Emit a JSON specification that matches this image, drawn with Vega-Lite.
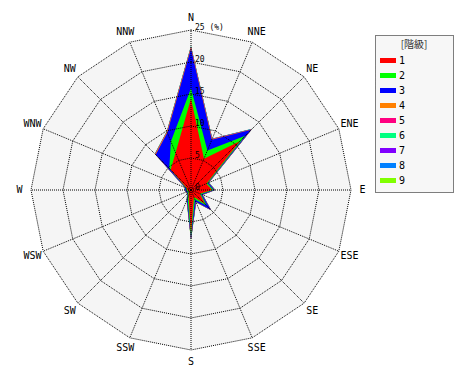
{
  "$schema": "https://vega.github.io/schema/vega-lite/v6.json",
  "width": 340,
  "height": 340,
  "autosize": {"type": "none"},
  "padding": {"left": 21, "top": 20, "right": 109, "bottom": 20},
  "background": "white",
  "config": {"view": {"stroke": null}},
  "datasets": {
    "winds": [
      {"a": 0, "1": 14.3, "2": 1.6, "3": 6.2, "4": 0.2, "5": 0.1, "6": 0.05, "7": 0.02, "8": 0.03, "9": 0.05},
      {"a": 22.5, "1": 5.3, "2": 1.4, "3": 1.8, "4": 0.1, "5": 0.05, "6": 0.03, "7": 0, "8": 0.02, "9": 0.02},
      {"a": 45, "1": 10.8, "2": 1.2, "3": 1.3, "4": 0.08, "5": 0.05, "6": 0.05, "7": 0, "8": 0.03, "9": 0.02},
      {"a": 67.5, "1": 2.6, "2": 0.2, "3": 0.15, "4": 0.03, "5": 0.02, "6": 0.03, "7": 0, "8": 0.02, "9": 0.02},
      {"a": 90, "1": 3.3, "2": 0.2, "3": 0.2, "4": 0.03, "5": 0.02, "6": 0.03, "7": 0, "8": 0.02, "9": 0.03},
      {"a": 112.5, "1": 1.5, "2": 0.2, "3": 0.2, "4": 0.03, "5": 0.02, "6": 0.02, "7": 0, "8": 0.02, "9": 0.03},
      {"a": 135, "1": 3.1, "2": 0.4, "3": 0.9, "4": 0.03, "5": 0.02, "6": 0.02, "7": 0, "8": 0.02, "9": 0.05},
      {"a": 157.5, "1": 1.2, "2": 0.4, "3": 0.4, "4": 0.03, "5": 0.02, "6": 0.02, "7": 0, "8": 0.02, "9": 0.05},
      {"a": 180, "1": 6.9, "2": 0.5, "3": 0.3, "4": 0.03, "5": 0.02, "6": 0.02, "7": 0, "8": 0.02, "9": 0.1},
      {"a": 202.5, "1": 1.0, "2": 0.4, "3": 0.3, "4": 0.02, "5": 0.02, "6": 0.02, "7": 0, "8": 0.02, "9": 0.08},
      {"a": 225, "1": 0.5, "2": 0.2, "3": 0.1, "4": 0.02, "5": 0.01, "6": 0.01, "7": 0, "8": 0.01, "9": 0.02},
      {"a": 247.5, "1": 0.4, "2": 0.2, "3": 0.2, "4": 0.02, "5": 0.01, "6": 0.01, "7": 0, "8": 0.01, "9": 0.02},
      {"a": 270, "1": 0.6, "2": 0.2, "3": 0.15, "4": 0.02, "5": 0.01, "6": 0.01, "7": 0, "8": 0.01, "9": 0.02},
      {"a": 292.5, "1": 0.7, "2": 0.15, "3": 0.15, "4": 0.02, "5": 0.01, "6": 0.01, "7": 0, "8": 0.01, "9": 0.02},
      {"a": 315, "1": 4.5, "2": 0.3, "3": 3.0, "4": 0.1, "5": 0.05, "6": 0.02, "7": 0, "8": 0.02, "9": 0.03},
      {"a": 337.5, "1": 6.3, "2": 1.9, "3": 1.5, "4": 0.1, "5": 0.05, "6": 0.02, "7": 0, "8": 0.02, "9": 0.03}
    ],
    "rings": [
      {"r": 5, "a": [0, 22.5, 45, 67.5, 90, 112.5, 135, 157.5, 180, 202.5, 225, 247.5, 270, 292.5, 315, 337.5]},
      {"r": 10, "a": [0, 22.5, 45, 67.5, 90, 112.5, 135, 157.5, 180, 202.5, 225, 247.5, 270, 292.5, 315, 337.5]},
      {"r": 15, "a": [0, 22.5, 45, 67.5, 90, 112.5, 135, 157.5, 180, 202.5, 225, 247.5, 270, 292.5, 315, 337.5]},
      {"r": 20, "a": [0, 22.5, 45, 67.5, 90, 112.5, 135, 157.5, 180, 202.5, 225, 247.5, 270, 292.5, 315, 337.5]},
      {"r": 25, "a": [0, 22.5, 45, 67.5, 90, 112.5, 135, 157.5, 180, 202.5, 225, 247.5, 270, 292.5, 315, 337.5]}
    ],
    "dirs": [
      {"d": "N", "a": 0}, {"d": "NNE", "a": 22.5}, {"d": "NE", "a": 45}, {"d": "ENE", "a": 67.5},
      {"d": "E", "a": 90}, {"d": "ESE", "a": 112.5}, {"d": "SE", "a": 135}, {"d": "SSE", "a": 157.5},
      {"d": "S", "a": 180}, {"d": "SSW", "a": 202.5}, {"d": "SW", "a": 225}, {"d": "WSW", "a": 247.5},
      {"d": "W", "a": 270}, {"d": "WNW", "a": 292.5}, {"d": "NW", "a": 315}, {"d": "NNW", "a": 337.5}
    ],
    "ringlabels": [
      {"r": 0, "t": "0"}, {"r": 5, "t": "5"}, {"r": 10, "t": "10"}, {"r": 15, "t": "15"}, {"r": 20, "t": "20"}, {"r": 25, "t": "25 (%)"}
    ]
  },
  "encoding": {
    "x": {"field": "x", "type": "quantitative", "scale": {"domain": [-26.5625, 26.5625], "nice": false, "zero": false}, "axis": null},
    "y": {"field": "y", "type": "quantitative", "scale": {"domain": [-26.5625, 26.5625], "nice": false, "zero": false}, "axis": null}
  },
  "layer": [
    {
      "data": {"name": "rings"},
      "transform": [
        {"filter": "datum.r == 25"},
        {"flatten": ["a"]},
        {"calculate": "datum.r * sin(datum.a * PI / 180)", "as": "x"},
        {"calculate": "datum.r * cos(datum.a * PI / 180)", "as": "y"}
      ],
      "mark": {"type": "line", "interpolate": "linear-closed", "fill": "#f5f5f5", "stroke": "transparent", "strokeWidth": 0},
      "encoding": {"order": {"field": "a", "type": "quantitative"}}
    },
    {
      "data": {"name": "winds"},
      "transform": [
        {"fold": ["1", "2", "3", "4", "5", "6", "7", "8", "9"], "as": ["cls", "v"]},
        {"window": [{"op": "sum", "field": "v", "as": "cum"}], "groupby": ["a"], "sort": [{"field": "cls", "order": "ascending"}]},
        {"calculate": "datum.cum * sin(datum.a * PI / 180)", "as": "x"},
        {"calculate": "datum.cum * cos(datum.a * PI / 180)", "as": "y"}
      ],
      "encoding": {
        "order": {"field": "a", "type": "quantitative"}
      },
      "layer": [
        {"transform": [{"filter": "datum.cls == '9'"}], "mark": {"type": "line", "interpolate": "linear-closed", "fill": "#80ff00", "stroke": "transparent", "strokeWidth": 0}},
        {"transform": [{"filter": "datum.cls == '8'"}], "mark": {"type": "line", "interpolate": "linear-closed", "fill": "#0080ff", "stroke": "transparent", "strokeWidth": 0}},
        {"transform": [{"filter": "datum.cls == '7'"}], "mark": {"type": "line", "interpolate": "linear-closed", "fill": "#8000ff", "stroke": "transparent", "strokeWidth": 0}},
        {"transform": [{"filter": "datum.cls == '6'"}], "mark": {"type": "line", "interpolate": "linear-closed", "fill": "#00ff80", "stroke": "transparent", "strokeWidth": 0}},
        {"transform": [{"filter": "datum.cls == '5'"}], "mark": {"type": "line", "interpolate": "linear-closed", "fill": "#ff0080", "stroke": "transparent", "strokeWidth": 0}},
        {"transform": [{"filter": "datum.cls == '4'"}], "mark": {"type": "line", "interpolate": "linear-closed", "fill": "#ff8000", "stroke": "transparent", "strokeWidth": 0}},
        {"transform": [{"filter": "datum.cls == '3'"}], "mark": {"type": "line", "interpolate": "linear-closed", "fill": "#0000ff", "stroke": "transparent", "strokeWidth": 0}},
        {"transform": [{"filter": "datum.cls == '2'"}], "mark": {"type": "line", "interpolate": "linear-closed", "fill": "#00ff00", "stroke": "transparent", "strokeWidth": 0}},
        {
          "transform": [{"filter": "datum.cls == '1'"}],
          "mark": {"type": "line", "interpolate": "linear-closed", "filled": true, "strokeWidth": 0},
          "encoding": {
            "color": {
              "field": "cls", "type": "nominal",
              "scale": {"domain": ["1", "2", "3", "4", "5", "6", "7", "8", "9"], "range": ["#ff0000", "#00ff00", "#0000ff", "#ff8000", "#ff0080", "#00ff80", "#8000ff", "#0080ff", "#80ff00"]},
              "legend": {
                "orient": "none", "legendX": 354, "legendY": 15,
                "title": "[階級]", "titleFont": "Noto Sans CJK JP", "titleFontSize": 10, "titleFontWeight": "normal", "titleColor": "#333333", "titleAnchor": "middle", "titlePadding": 4,
                "labelFont": "DejaVu Sans Mono", "labelFontSize": 10, "labelColor": "black", "labelOffset": 3,
                "labelExpr": "datum.label + '\u2800\u2800\u2800\u2800\u2800\u2800'",
                "symbolType": "M-1,-0.3125H1V0.3125H-1Z", "symbolSize": 256, "symbolStrokeWidth": 0,
                "clipHeight": 13, "rowPadding": 2, "padding": 5,
                "fillColor": "#f7f7f7", "strokeColor": "black",
                "encode": {
                  "legend": {"update": {"strokeDash": {"value": [1, 1]}}},
                  "symbols": {"update": {"fill": {"scale": "color", "field": "value"}, "stroke": {"value": "transparent"}}}
                }
              }
            }
          }
        }
      ]
    },
    {
      "data": {"name": "rings"},
      "transform": [
        {"flatten": ["a"]},
        {"calculate": "datum.r * sin(datum.a * PI / 180)", "as": "x"},
        {"calculate": "datum.r * cos(datum.a * PI / 180)", "as": "y"}
      ],
      "mark": {"type": "line", "interpolate": "linear-closed", "stroke": "black", "strokeWidth": 1, "strokeDash": [1, 1]},
      "encoding": {"order": {"field": "a", "type": "quantitative"}, "detail": {"field": "r", "type": "nominal"}}
    },
    {
      "data": {"name": "dirs"},
      "transform": [
        {"calculate": "25 * sin(datum.a * PI / 180)", "as": "x"},
        {"calculate": "25 * cos(datum.a * PI / 180)", "as": "y"}
      ],
      "mark": {"type": "rule", "stroke": "black", "strokeWidth": 1, "strokeDash": [1, 1]},
      "encoding": {
        "x": {"datum": 0, "type": "quantitative", "scale": {"domain": [-26.5625, 26.5625], "nice": false, "zero": false}, "axis": null},
        "y": {"datum": 0, "type": "quantitative", "scale": {"domain": [-26.5625, 26.5625], "nice": false, "zero": false}, "axis": null},
        "x2": {"field": "x"},
        "y2": {"field": "y"}
      }
    },
    {
      "data": {"name": "dirs"},
      "transform": [
        {"calculate": "26.8 * sin(datum.a * PI / 180)", "as": "x"},
        {"calculate": "26.8 * cos(datum.a * PI / 180)", "as": "y"}
      ],
      "mark": {"type": "text", "font": "DejaVu Sans Mono", "fontSize": 10, "align": "center", "baseline": "middle", "color": "black"},
      "encoding": {"text": {"field": "d", "type": "nominal"}}
    },
    {
      "data": {"name": "ringlabels"},
      "transform": [
        {"calculate": "0", "as": "x"},
        {"calculate": "datum.r", "as": "y"}
      ],
      "mark": {"type": "text", "font": "DejaVu Sans Mono", "fontSize": 8, "align": "left", "baseline": "alphabetic", "dx": 4, "color": "black"},
      "encoding": {"text": {"field": "t", "type": "nominal"}}
    }
  ]
}
